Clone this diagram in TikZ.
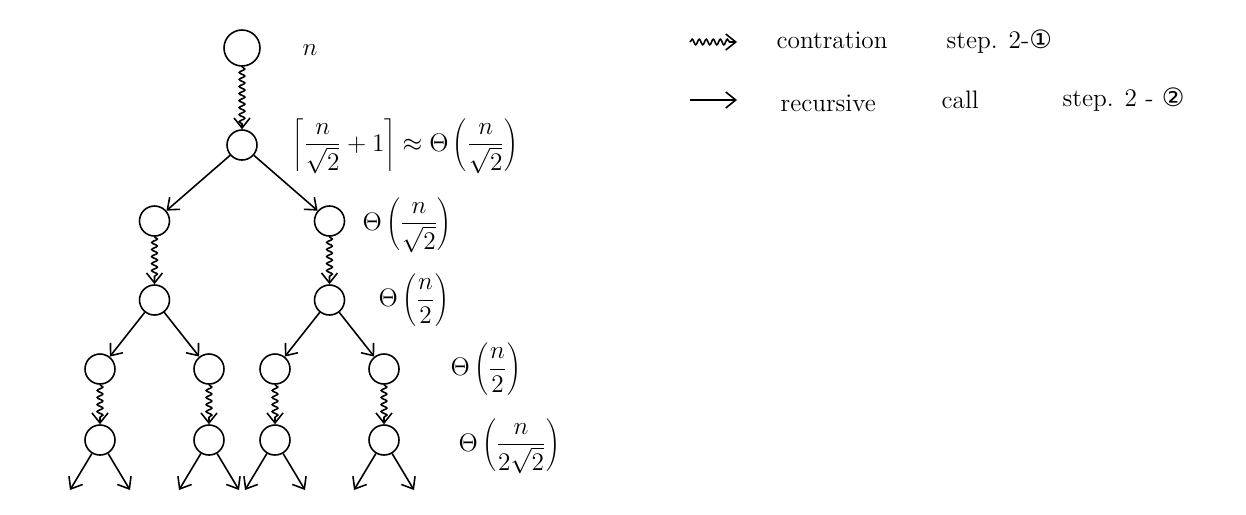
\documentclass[tikz,border=0pt]{standalone}
\usepackage{fontspec}
\newfontfamily\circfont{DejaVu Sans}
\usetikzlibrary{arrows.meta,decorations.pathmorphing}

\begin{document}
\begin{tikzpicture}[x=0.2mm, y=-0.2mm, line width=0.9pt,
  >={Straight Barb[length=2mm,width=3.2mm]},
  vertex/.style={draw, circle, minimum size=6mm, inner sep=0pt},
  call/.style={->},
  contract/.style={->, decorate, decoration={snake, amplitude=1.6pt, segment length=4pt, post length=2.5pt}},
  cost/.style={font=\Large, anchor=west},
  legend/.style={font=\Large, anchor=west},
  edge from parent/.style={draw, call},
  level 1/.style={level distance=19.4mm},
  level 2/.style={level distance=15.2mm, sibling distance=35mm},
  level 3/.style={level distance=15.8mm},
  level 4/.style={level distance=13.8mm, sibling distance=21.8mm},
  level 5/.style={level distance=14.2mm},
  level 6/.style={level distance=10mm, sibling distance=12mm}]
\useasboundingbox (0,0) rectangle (1246,514);

% the recursion tree
\node[vertex, minimum size=7.2mm] (root) at (242,48) {}
  child {node[vertex] (a) {}
    child {node[vertex] (aL) {}
      child {node[vertex] (aLc) {}
        child {node[vertex] (aLL) {}
          child {node[vertex] (aLLc) {}
            child {coordinate (x1)}
            child {coordinate (x2)}
            edge from parent[contract]}
          }
        child {node[vertex] (aLR) {}
          child {node[vertex] (aLRc) {}
            child {coordinate (x3)}
            child {coordinate (x4)}
            edge from parent[contract]}
          }
        edge from parent[contract]}
      }
    child {node[vertex] (aR) {}
      child {node[vertex] (aRc) {}
        child {node[vertex] (aRL) {}
          child {node[vertex] (aRLc) {}
            child {coordinate (x5)}
            child {coordinate (x6)}
            edge from parent[contract]}
          }
        child {node[vertex] (aRR) {}
          child {node[vertex] (aRRc) {}
            child {coordinate (x7)}
            child {coordinate (x8)}
            edge from parent[contract]}
          }
        edge from parent[contract]}
      }
    edge from parent[contract]};

% sizes of the subproblems
\node[cost] (s0) at (296,50) {$n$};
\node[cost] (s1) at (286,146) {$\displaystyle\left\lceil\frac{n}{\sqrt{2}}+1\right\rceil \approx \Theta\left(\frac{n}{\sqrt{2}}\right)$};
\node[cost] (s2) at (356,225) {$\displaystyle\Theta\left(\frac{n}{\sqrt{2}}\right)$};
\node[cost] (s3) at (372,300) {$\displaystyle\Theta\left(\frac{n}{2}\right)$};
\node[cost] (s4) at (444,369) {$\displaystyle\Theta\left(\frac{n}{2}\right)$};
\node[cost] (s5) at (452,446) {$\displaystyle\Theta\left(\frac{n}{2\sqrt{2}}\right)$};

% legend
\coordinate (k1) at (690,42);
\coordinate (k2) at (737,42);
\coordinate (k3) at (690,100);
\coordinate (k4) at (737,100);
\draw[contract] (k1) -- (k2);
\draw[call] (k3) -- (k4);
\node[legend] (t1) at (770,40) {contration};
\node[legend] (t2) at (940,42) {step. 2-{\circfont ①}};
\node[legend] (t3) at (774,103) {recursive};
\node[legend] (t4) at (935,100) {call};
\node[legend] (t5) at (1056,100) {step. 2 - {\circfont ②}};
\end{tikzpicture}
\end{document}
